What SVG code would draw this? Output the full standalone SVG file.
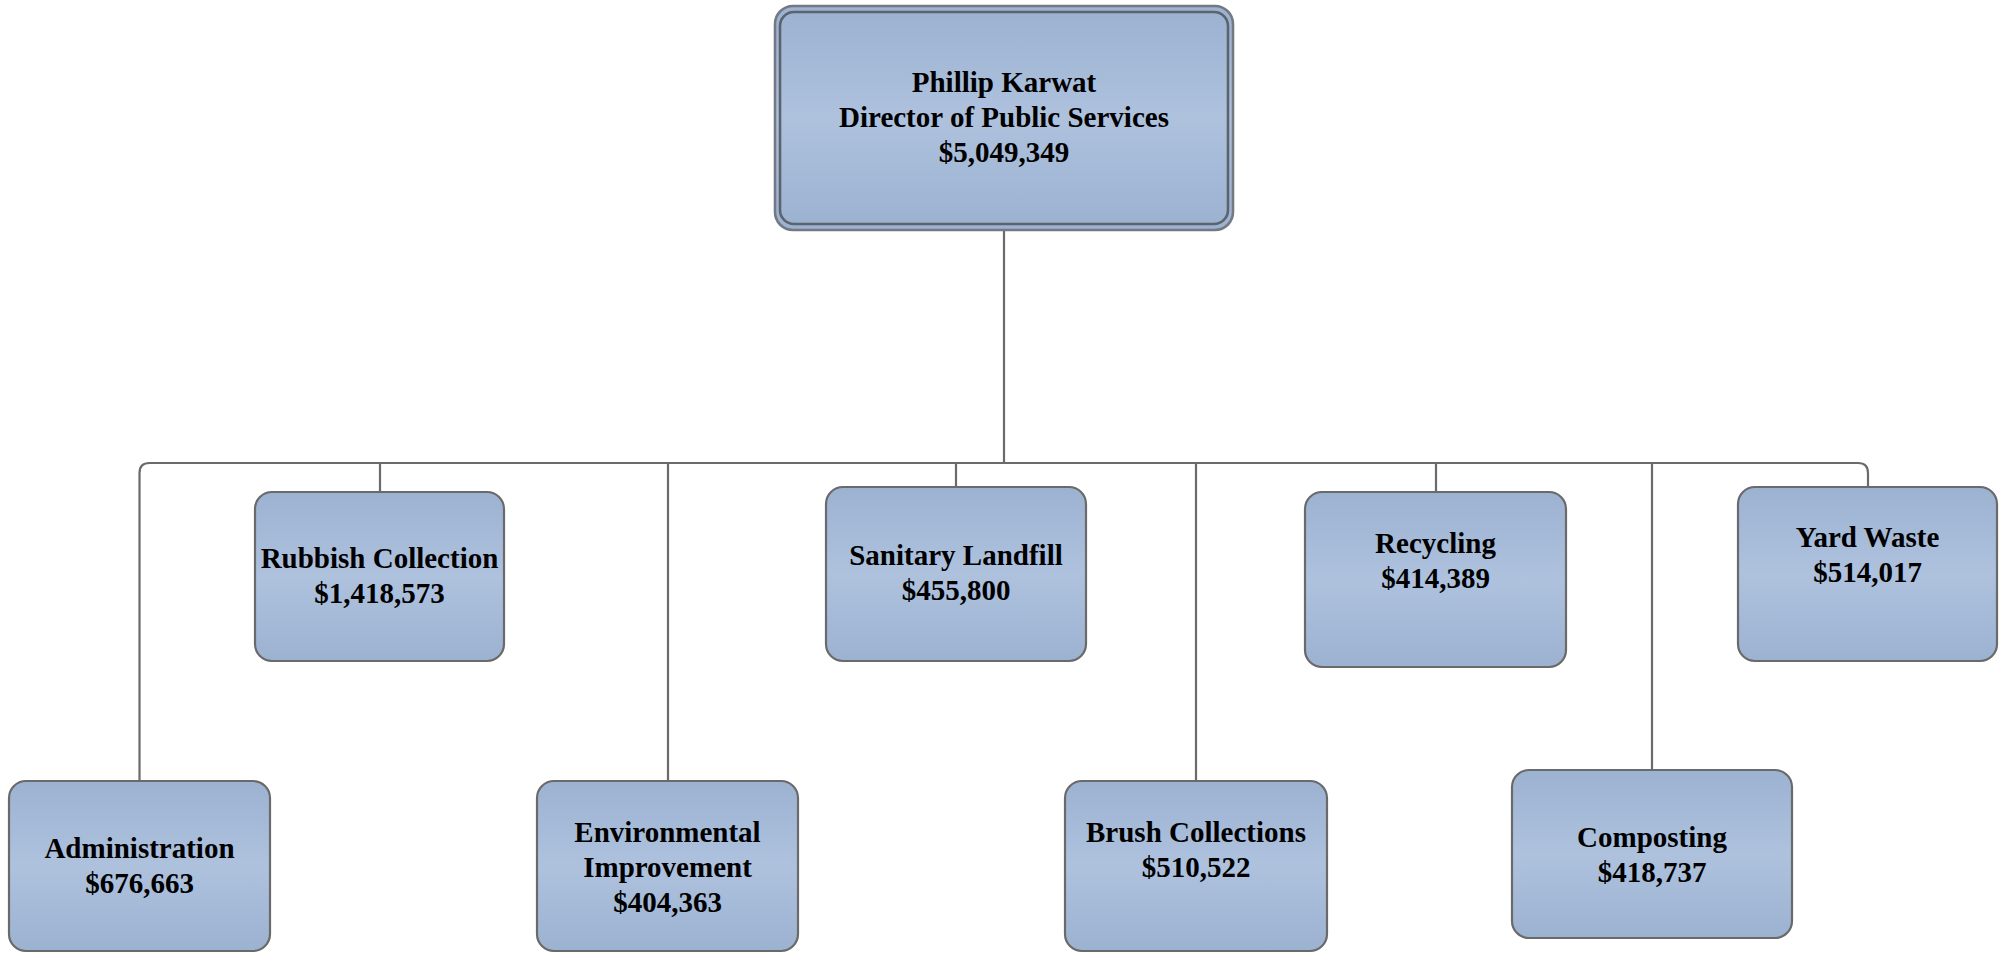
<svg xmlns="http://www.w3.org/2000/svg" width="2003" height="953" viewBox="0 0 2003 953">
  <style>
    .box { fill: url(#boxFill); stroke: #6a6a6a; stroke-width: 2.2; }
    .outer { fill: url(#boxFill); stroke: #737a84; stroke-width: 2.6; }
    .inner { fill: url(#boxFill); stroke: #5c636d; stroke-width: 2.6; }
    .lbl { font-family: "Liberation Serif", "Times New Roman", serif; font-weight: bold; font-size: 29px; fill: #000; text-anchor: middle; }
    .wire { fill: none; stroke: #6a6a6a; stroke-width: 2.2; }
  </style>
  <defs>
    <linearGradient id="boxFill" x1="0" y1="0" x2="0" y2="1">
      <stop offset="0" stop-color="#9cb2d1"/>
      <stop offset="0.5" stop-color="#aec2de"/>
      <stop offset="1" stop-color="#9cb2d1"/>
    </linearGradient>
  </defs>
  <rect width="2003" height="953" fill="#ffffff"/>

  <!-- connectors -->
  <g id="connectors">
    <path class="wire" d="M1004 230 V463"/>
    <path class="wire" d="M139.5 781 V473 Q139.5 463 149.5 463 H1858 Q1868 463 1868 473 V487"/>
    <path class="wire" d="M380 463 V492"/>
    <path class="wire" d="M668 463 V781"/>
    <path class="wire" d="M956 463 V487"/>
    <path class="wire" d="M1196 463 V781"/>
    <path class="wire" d="M1436 463 V492"/>
    <path class="wire" d="M1652 463 V770"/>
  </g>

  <!-- director -->
  <g id="director">
    <rect class="outer" x="775" y="6" width="458" height="224" rx="18"/>
    <rect class="inner" x="780" y="12" width="448" height="212" rx="14"/>
    <text class="lbl" x="1004" y="92">Phillip Karwat</text>
    <text class="lbl" x="1004" y="127">Director of Public Services</text>
    <text class="lbl" x="1004" y="162">$5,049,349</text>
  </g>

  <g id="rubbish">
    <rect class="box" x="255" y="492" width="249" height="169" rx="17"/>
    <text class="lbl" x="379.5" y="568">Rubbish Collection</text>
    <text class="lbl" x="379.5" y="603">$1,418,573</text>
  </g>

  <g id="landfill">
    <rect class="box" x="826" y="487" width="260" height="174" rx="17"/>
    <text class="lbl" x="956" y="565">Sanitary Landfill</text>
    <text class="lbl" x="956" y="600">$455,800</text>
  </g>

  <g id="recycling">
    <rect class="box" x="1305" y="492" width="261" height="175" rx="17"/>
    <text class="lbl" x="1435.5" y="553">Recycling</text>
    <text class="lbl" x="1435.5" y="588">$414,389</text>
  </g>

  <g id="yard-waste">
    <rect class="box" x="1738" y="487" width="259" height="174" rx="17"/>
    <text class="lbl" x="1867.5" y="547">Yard Waste</text>
    <text class="lbl" x="1867.5" y="582">$514,017</text>
  </g>

  <g id="administration">
    <rect class="box" x="9" y="781" width="261" height="170" rx="17"/>
    <text class="lbl" x="139.5" y="858">Administration</text>
    <text class="lbl" x="139.5" y="893">$676,663</text>
  </g>

  <g id="environmental">
    <rect class="box" x="537" y="781" width="261" height="170" rx="17"/>
    <text class="lbl" x="667.5" y="842">Environmental</text>
    <text class="lbl" x="667.5" y="877">Improvement</text>
    <text class="lbl" x="667.5" y="912">$404,363</text>
  </g>

  <g id="brush">
    <rect class="box" x="1065" y="781" width="262" height="170" rx="17"/>
    <text class="lbl" x="1196" y="842">Brush Collections</text>
    <text class="lbl" x="1196" y="877">$510,522</text>
  </g>

  <g id="composting">
    <rect class="box" x="1512" y="770" width="280" height="168" rx="17"/>
    <text class="lbl" x="1652" y="847">Composting</text>
    <text class="lbl" x="1652" y="882">$418,737</text>
  </g>
</svg>
